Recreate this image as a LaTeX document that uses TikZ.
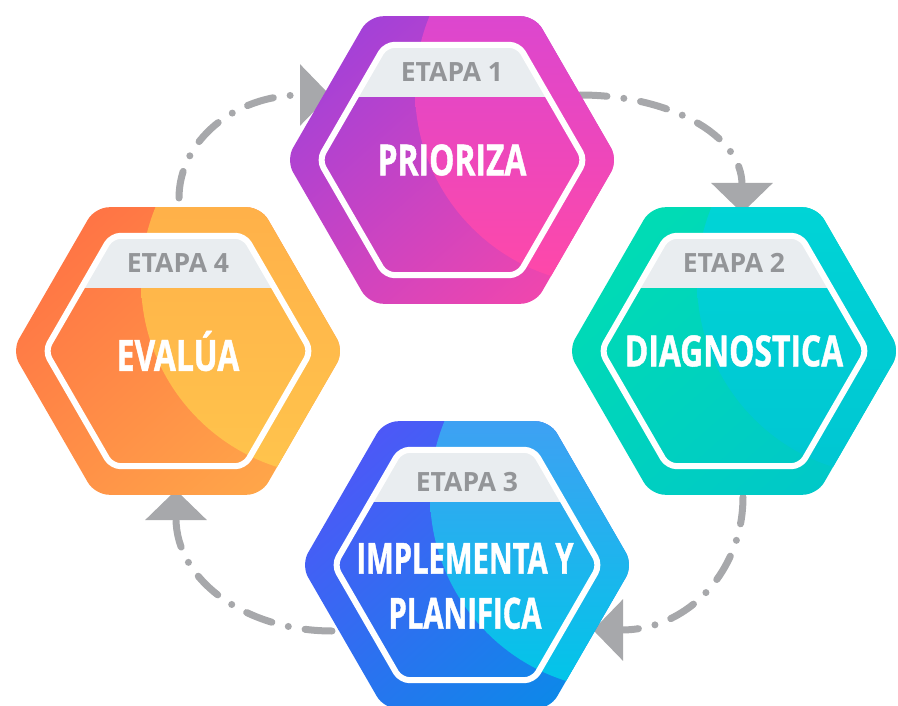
\documentclass[tikz,border=0pt]{standalone}
\usepackage{fontspec}
\setmainfont{Open Sans}
\newfontfamily\condensada{Open Sans}[FakeStretch=0.74,FakeBold=1]
\newfontfamily\estrecha{Open Sans}[FakeStretch=0.68,FakeBold=1]
\usepackage{tikz}
\usetikzlibrary{calc,arrows.meta,shadings}
\definecolor{vgris}{HTML}{A7A8AB}
\definecolor{egris}{HTML}{939598}
\definecolor{banda}{HTML}{E9EDF0}
\definecolor{moradoA}{HTML}{9440E0}
\definecolor{moradoB}{HTML}{FF47A5}
\definecolor{moradoC}{HTML}{CC46E0}
\definecolor{moradoD}{HTML}{FF48A8}
\definecolor{verdeA}{HTML}{00E0B0}
\definecolor{verdeB}{HTML}{00C4CC}
\definecolor{verdeC}{HTML}{00DAD8}
\definecolor{verdeD}{HTML}{00C6D2}
\definecolor{azulA}{HTML}{5A4EFA}
\definecolor{azulB}{HTML}{0092E6}
\definecolor{azulC}{HTML}{5A90F8}
\definecolor{azulD}{HTML}{00C6E8}
\definecolor{naranjaA}{HTML}{FF6A44}
\definecolor{naranjaB}{HTML}{FFB04A}
\definecolor{naranjaC}{HTML}{FFA848}
\definecolor{naranjaD}{HTML}{FFC44C}

\tikzset{
  flecha/.style={draw=vgris, line width=7pt, line cap=round,
    dash pattern=on 27pt off 17pt on 0pt off 17pt,
    -{Triangle[width=60pt,length=30pt]}},
  etapa/.style={text=egris, font=\bfseries\fontsize{26.5}{26.5}\selectfont},
  paso/.style={text=white, align=center, font=\condensada\bfseries\fontsize{43}{55}\selectfont},
  marco/.style={draw=white, line width=6pt, rounded corners=9pt}
}

\newcommand{\hexlado}[2]{($(#1)+(0:#2)$) -- ($(#1)+(60:#2)$) -- ($(#1)+(120:#2)$) -- ($(#1)+(180:#2)$) -- ($(#1)+(240:#2)$) -- ($(#1)+(300:#2)$) -- cycle}

\newcommand{\hexagono}[6]{
\coordinate (#1) at (#2);
\begin{scope}
\clip[rounded corners=14pt] \hexlado{#1}{166};
\shade[upper left=#3, lower right=#4, upper right=#3!50!#4, lower left=#3!50!#4] ($(#1)+(-170,-150)$) rectangle ($(#1)+(170,150)$);
\shade[top color=#5, bottom color=#6] ($(#1)+(158,-70)$) circle[radius=195pt];
\end{scope}
\begin{scope}
\clip \hexlado{#1}{131};
\fill[banda] ($(#1)+(-140,-130)$) rectangle ($(#1)+(140,-63)$);
\end{scope}
\draw[marco] \hexlado{#1}{133};
}

\begin{document}
\begin{tikzpicture}[x=1pt,y=-1pt]
\useasboundingbox (0,0) rectangle (898,706);

\coordinate (a4) at (179,198);
\coordinate (b1) at (330,95);
\coordinate (a1) at (580,95);
\coordinate (b2) at (742,213);
\coordinate (a2) at (743,497);
\coordinate (b3) at (593,630);
\coordinate (a3) at (332,631);
\coordinate (b4) at (176,490);

\draw[flecha] (a4) .. controls +(0,-56) and +(-97,0) .. (b1);
\draw[flecha] (a1) .. controls +(89,0) and +(0,-78) .. (b2);
\draw[flecha] (a2) .. controls +(0,73) and +(96,0) .. (b3);
\draw[flecha] (a3) .. controls +(-85,0) and +(0,91) .. (b4);

\hexagono{p1}{452,160}{moradoA}{moradoB}{moradoC}{moradoD}
\hexagono{p2}{734,351}{verdeA}{verdeB}{verdeC}{verdeD}
\hexagono{p3}{467,565}{azulA}{azulB}{azulC}{azulD}
\hexagono{p4}{178,351}{naranjaA}{naranjaB}{naranjaC}{naranjaD}

\node[etapa] (e1) at ($(p1)+(0,-88)$) {ETAPA 1};
\node[etapa] (e2) at ($(p2)+(0,-88)$) {ETAPA 2};
\node[etapa] (e3) at ($(p3)+(0,-83)$) {ETAPA 3};
\node[etapa] (e4) at ($(p4)+(0,-88)$) {ETAPA 4};

\node[paso] (t1) at (p1) {PRIORIZA};
\node[paso] (t2) at (p2) {DIAGNOSTICA};
\node[paso, font=\estrecha\bfseries\fontsize{43}{55}\selectfont] (t3) at ($(p3)+(-2,21)$) {IMPLEMENTA Y\\PLANIFICA};
\node[paso] (t4) at (p4) {EVALÚA};
\end{tikzpicture}
\end{document}
